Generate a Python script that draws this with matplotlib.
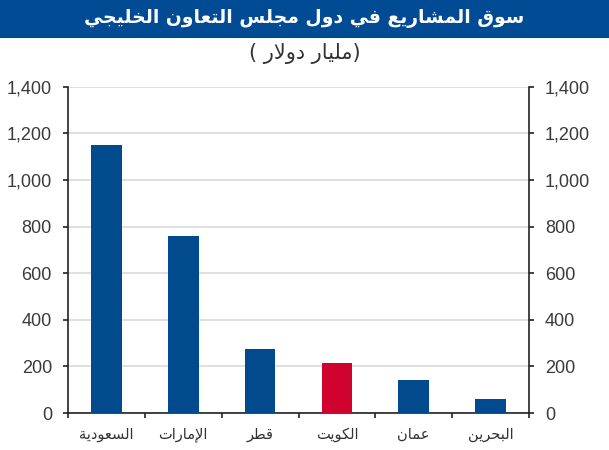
import matplotlib
matplotlib.use("Agg")
import matplotlib.pyplot as plt
from matplotlib.patches import Rectangle

# ---------------- data ----------------
title = "سوق المشاريع في دول مجلس التعاون الخليجي"
subtitle = "(مليار دولار )"
categories = ["السعودية", "الإمارات", "قطر", "الكويت", "عمان", "البحرين"]
values = [1150, 760, 275, 215, 140, 58]
bar_colors = ["#004A8D", "#004A8D", "#004A8D", "#D0032E", "#004A8D", "#004A8D"]
yticks = [0, 200, 400, 600, 800, 1000, 1200, 1400]
ytick_labels = ["0", "200", "400", "600", "800", "1,000", "1,200", "1,400"]

# ---------------- minimal Arabic shaping (presentation forms) ----------------
FORMS = {
    "ء": (0xFE80, 1), "آ": (0xFE81, 2), "أ": (0xFE83, 2), "ؤ": (0xFE85, 2),
    "إ": (0xFE87, 2), "ئ": (0xFE89, 4), "ا": (0xFE8D, 2), "ب": (0xFE8F, 4),
    "ة": (0xFE93, 2), "ت": (0xFE95, 4), "ث": (0xFE99, 4), "ج": (0xFE9D, 4),
    "ح": (0xFEA1, 4), "خ": (0xFEA5, 4), "د": (0xFEA9, 2), "ذ": (0xFEAB, 2),
    "ر": (0xFEAD, 2), "ز": (0xFEAF, 2), "س": (0xFEB1, 4), "ش": (0xFEB5, 4),
    "ص": (0xFEB9, 4), "ض": (0xFEBD, 4), "ط": (0xFEC1, 4), "ظ": (0xFEC5, 4),
    "ع": (0xFEC9, 4), "غ": (0xFECD, 4), "ف": (0xFED1, 4), "ق": (0xFED5, 4),
    "ك": (0xFED9, 4), "ل": (0xFEDD, 4), "م": (0xFEE1, 4), "ن": (0xFEE5, 4),
    "ه": (0xFEE9, 4), "و": (0xFEED, 2), "ى": (0xFEEF, 2), "ي": (0xFEF1, 4),
}
LAM_ALEF = {"آ": 0xFEF5, "أ": 0xFEF7, "إ": 0xFEF9, "ا": 0xFEFB}
MIRROR = {"(": ")", ")": "("}


def shape(text):
    units = []
    i = 0
    while i < len(text):
        c = text[i]
        if c == "ل" and i + 1 < len(text) and text[i + 1] in LAM_ALEF:
            units.append(("LA", text[i + 1]))
            i += 2
        else:
            units.append(("C", c))
            i += 1

    def joins_left(u):
        if u[0] == "LA":
            return False
        f = FORMS.get(u[1])
        return f is not None and f[1] == 4

    def joins_right(u):
        if u[0] == "LA":
            return True
        return u[1] in FORMS and FORMS[u[1]][1] >= 2

    out = []
    for k, u in enumerate(units):
        prev_j = k > 0 and joins_left(units[k - 1]) and joins_right(u)
        next_j = (k + 1 < len(units) and joins_left(u)
                  and joins_right(units[k + 1]))
        if u[0] == "LA":
            base = LAM_ALEF[u[1]]
            out.append(chr(base + (1 if prev_j else 0)))
            continue
        c = u[1]
        if c not in FORMS:
            out.append(MIRROR.get(c, c))
            continue
        base, n = FORMS[c]
        if n == 1:
            idx = 0
        elif n == 2:
            idx = 1 if prev_j else 0
        else:
            if prev_j and next_j:
                idx = 3
            elif prev_j:
                idx = 1
            elif next_j:
                idx = 2
            else:
                idx = 0
        out.append(chr(base + idx))
    return "".join(out[::-1])


# ---------------- figure ----------------
plt.rcParams["font.family"] = ["Liberation Sans", "DejaVu Sans"]

fig = plt.figure(figsize=(6.09, 4.5), dpi=100)
fig.patch.set_facecolor("white")

fig.patches.append(Rectangle((0, 1 - 38 / 450), 1, 38 / 450, transform=fig.transFigure,
                             facecolor="#004B93", edgecolor="none", zorder=0))
fig.text(0.5, 1 - 19 / 450, shape(title), ha="center", va="center", color="white",
         fontsize=13.5, fontweight="bold", family=["DejaVu Sans"])
fig.text(0.5, 1 - 53 / 450, shape(subtitle), ha="center", va="center", color="#333333",
         fontsize=15, family=["DejaVu Sans"])

ax = fig.add_axes([68 / 609, 1 - 413 / 450, (529 - 68) / 609, (413 - 86.7) / 450])
x = [i + 0.5 for i in range(len(categories))]
ax.bar(x, values, width=0.4, color=bar_colors, zorder=3)

ax.set_xlim(0, len(categories))
ax.set_ylim(0, 1400)
ax.set_yticks(yticks)
ax.set_yticklabels(ytick_labels)
ax.yaxis.grid(True, color="#DCDCDC", linewidth=1.3, zorder=0)
ax.set_axisbelow(True)

ax.set_xticks(list(range(len(categories) + 1)))
ax.set_xticklabels([])
ax.set_xticks(x, minor=True)
ax.set_xticklabels([shape(c) for c in categories], minor=True, family=["DejaVu Sans"],
                   fontsize=10.5, color="#333333")
ax.tick_params(axis="x", which="major", direction="out", length=3.6, width=1.2, color="#222222")
ax.tick_params(axis="x", which="minor", length=0, pad=10)
ax.tick_params(axis="y", which="both", direction="out", length=3.6, width=1.2, color="#222222",
               labelsize=13, labelcolor="#3A3A3A", left=True, right=True,
               labelleft=True, labelright=True, pad=8)

for side in ["left", "right", "bottom"]:
    ax.spines[side].set_color("#222222")
    ax.spines[side].set_linewidth(1.2)
ax.spines["top"].set_visible(False)

fig.savefig("out.png", dpi=100)
